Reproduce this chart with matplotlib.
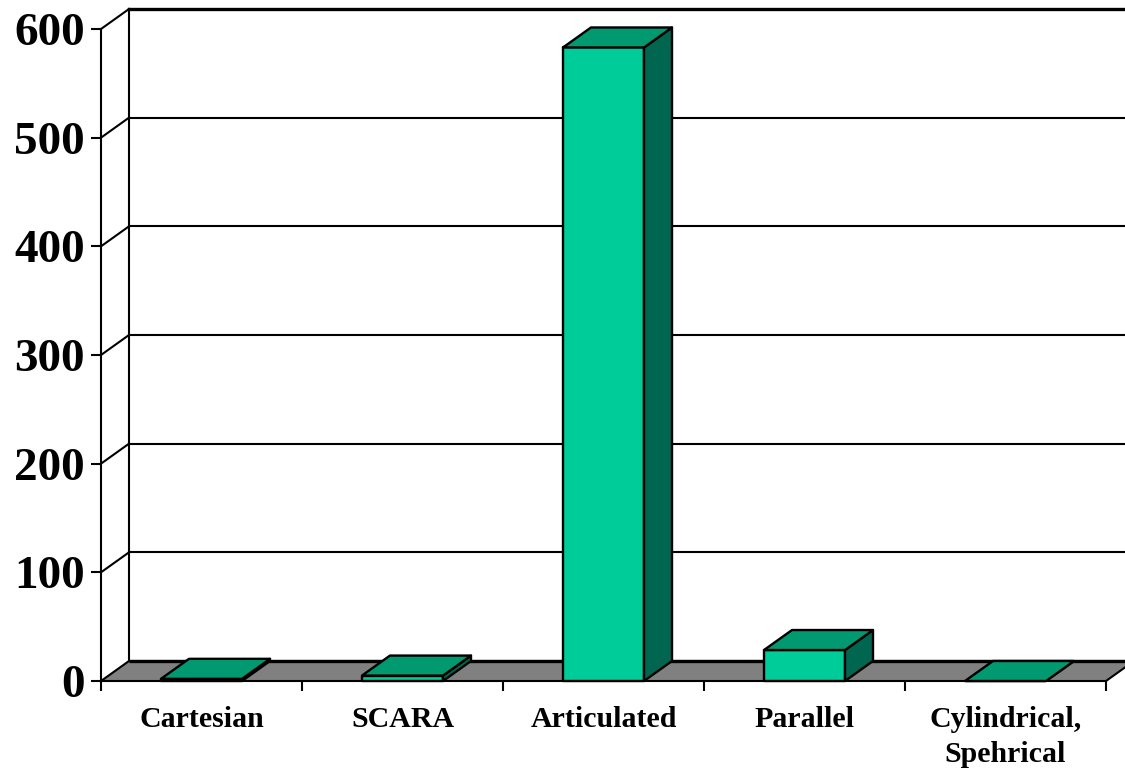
import matplotlib
matplotlib.use("Agg")
import matplotlib.pyplot as plt
from matplotlib.patches import Polygon

categories = ["Cartesian", "SCARA", "Articulated", "Parallel", "Cylindrical,\nSpehrical"]
values = [2, 5, 583, 28.5, 0]
y_ticks = [0, 100, 200, 300, 400, 500, 600]

W, H = 1125, 771
fig = plt.figure(figsize=(W / 100, H / 100), dpi=100, facecolor="white")
ax = fig.add_axes([101 / W, 1 - 681 / H, 1005 / W, 652 / H])
ax.set_xlim(0, 5)
ax.set_ylim(0, 600)
ax.patch.set_visible(False)
for s in ax.spines.values():
    s.set_visible(False)

plt.rcParams["font.family"] = ["Liberation Serif", "DejaVu Serif"]

# depth of the 3D effect in data units
dx = 28 / 201
dy = 20 * 600 / 652
lw = 1.5
bar_lw = 1.7
edge = "black"

# floor
ax.add_patch(Polygon([(0, 0), (dx, dy), (5 + dx, dy), (5, 0)], closed=True, fc="#808080",
                     ec=edge, lw=lw, clip_on=False, zorder=2))
ax.plot([dx, 5 + dx], [dy, dy], color=edge, lw=2.4, clip_on=False, zorder=2.1, solid_capstyle="butt")

# walls and gridlines
ax.plot([0, 0], [0, 600], color=edge, lw=lw, clip_on=False, zorder=1)
ax.plot([dx, dx], [dy, 600 + dy], color=edge, lw=lw, clip_on=False, zorder=1)
for t in y_ticks[1:]:
    ax.plot([0, dx], [t, t + dy], color=edge, lw=lw, clip_on=False, zorder=1)
    ax.plot([dx, 5 + dx], [t + dy, t + dy], color=edge,
            lw=2.4 if t == y_ticks[-1] else lw, clip_on=False, zorder=1)

# bars
half = 40.5 / 201
for i, v in enumerate(values):
    c = i + 0.5
    l, r = c - half, c + half
    zo = 3 + i * 0.1
    ax.add_patch(Polygon([(l, 0), (r, 0), (r, v), (l, v)], closed=True, fc="#00CC99", ec=edge,
                         lw=bar_lw, clip_on=False, zorder=zo, joinstyle="round"))
    ax.add_patch(Polygon([(r, 0), (r + dx, dy), (r + dx, v + dy), (r, v)], closed=True, fc="#006650",
                         ec=edge, lw=bar_lw, clip_on=False, zorder=zo, joinstyle="round"))
    ax.add_patch(Polygon([(l, v), (r, v), (r + dx, v + dy), (l + dx, v + dy)], closed=True,
                         fc="#009970", ec=edge, lw=bar_lw, clip_on=False, zorder=zo, joinstyle="round"))

# axes ticks and labels
ax.set_xticks(range(6))
ax.set_xticklabels([])
ax.set_xticks([i + 0.5 for i in range(5)], minor=True)
ax.set_xticklabels(categories, minor=True, fontsize=21.5, fontweight="bold",
                   family="Liberation Serif", linespacing=1.38)
ax.tick_params(axis="x", which="major", length=7.5, width=lw, direction="out", color=edge)
ax.tick_params(axis="x", which="minor", length=0, pad=18)
ax.set_yticks(y_ticks)
ax.set_yticklabels([str(t) for t in y_ticks], fontsize=34, fontweight="bold", family="Liberation Serif")
ax.tick_params(axis="y", length=7.5, width=lw, direction="out", color=edge, pad=4)

fig.savefig("out.png", dpi=100, facecolor="white")
